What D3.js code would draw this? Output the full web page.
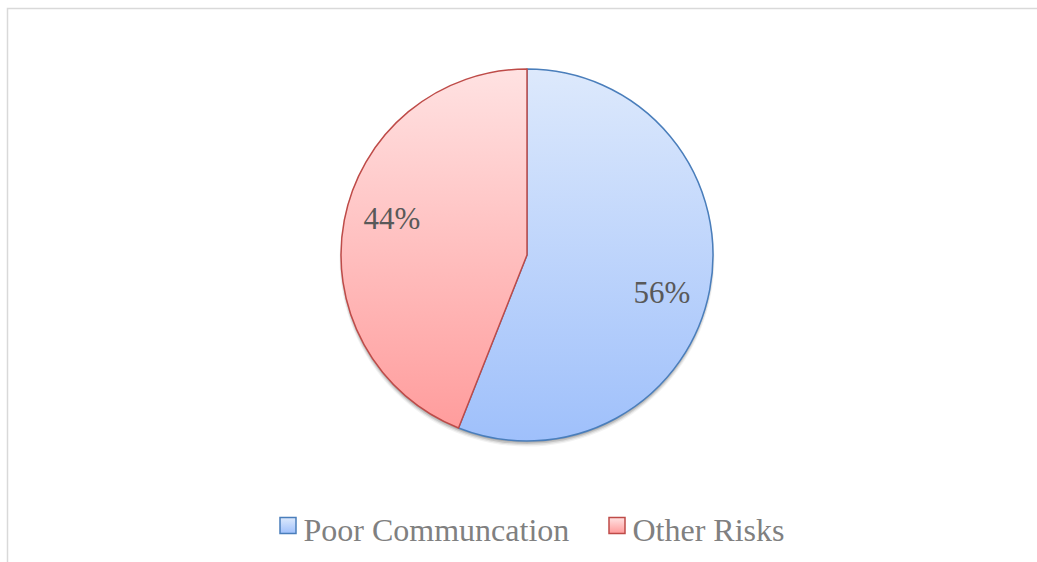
<!DOCTYPE html>
<html><head><meta charset="utf-8">
<script src="https://cdn.jsdelivr.net/npm/d3@7"></script>
</head><body style="margin:0">
<svg id="chart" width="1037" height="562"></svg>
<script>
const categories = ["Poor Communcation", "Other Risks"];
const values = [56, 44];
const labels = ["56%", "44%"];

const svg = d3.select("#chart");
const W = 1037, H = 562;
const cx = 527, cy = 255, r = 186;
const strokeCols = ["#4a7ebb", "#be4b48"];
const topCols = ["#dde9fc", "#ffe2e2"];
const botCols = ["#9fc0fb", "#ff9a9a"];

svg.append("rect").attr("x", 7.5).attr("y", 8.5).attr("width", W + 10).attr("height", H + 10)
  .attr("fill", "#fff").attr("stroke", "#d9d9d9").attr("stroke-width", 1.5);

const defs = svg.append("defs");
categories.forEach((c, i) => {
  const g = defs.append("linearGradient").attr("id", "g" + i)
    .attr("gradientUnits", "userSpaceOnUse")
    .attr("x1", 0).attr("y1", -r).attr("x2", 0).attr("y2", r);
  g.append("stop").attr("offset", "0%").attr("stop-color", topCols[i]);
  g.append("stop").attr("offset", "100%").attr("stop-color", botCols[i]);
  const lg = defs.append("linearGradient").attr("id", "lg" + i).attr("x1", 0).attr("y1", 0).attr("x2", 0).attr("y2", 1);
  lg.append("stop").attr("offset", "0%").attr("stop-color", topCols[i]);
  lg.append("stop").attr("offset", "100%").attr("stop-color", botCols[i]);
});

// soft shadow without filters: stacked translucent discs
const shadow = svg.append("g").attr("transform", `translate(${cx},${cy})`);
[[4, 1.5, 0.05], [3.5, 0.8, 0.08], [3, 0, 0.12], [2, -0.5, 0.12]].forEach(([dy, dr, op]) => {
  shadow.append("circle").attr("cx", 0).attr("cy", dy).attr("r", r + dr)
    .attr("fill", "#000").attr("fill-opacity", op);
});

const pie = d3.pie().sort(null).value(d => d)(values);
const arc = d3.arc().innerRadius(0).outerRadius(r);
const gg = svg.append("g").attr("transform", `translate(${cx},${cy})`);
gg.selectAll("path").data(pie).join("path")
  .attr("d", arc)
  .attr("fill", (d, i) => `url(#g${i})`)
  .attr("stroke", (d, i) => strokeCols[i])
  .attr("stroke-width", 1.5)
  .attr("stroke-linejoin", "round");

const lr = 140, shift = 4.5 * Math.PI / 180;
const labelData = pie.map((d, i) => ({
  text: labels[i],
  x: cx + lr * Math.sin((d.startAngle + d.endAngle) / 2 + shift),
  y: cy - lr * Math.cos((d.startAngle + d.endAngle) / 2 + shift) + 11
}));
svg.selectAll("text.lbl").data(labelData).join("text").attr("class", "lbl")
  .attr("x", d => d.x).attr("y", d => d.y)
  .attr("text-anchor", "middle")
  .attr("font-size", 31)
  .style("font-family", d => `"Liberation Serif"`)
  .attr("fill", "#595959")
  .text(d => d.text);

// legend
const legX = [280, 609];
svg.selectAll("rect.key").data(categories).join("rect").attr("class", "key")
  .attr("x", (d, i) => legX[i]).attr("y", 517.5).attr("width", 16).attr("height", 16)
  .attr("fill", (d, i) => `url(#lg${i})`).attr("stroke", (d, i) => strokeCols[i]).attr("stroke-width", 1.5);
svg.selectAll("text.leg").data(categories).join("text").attr("class", "leg")
  .attr("x", (d, i) => legX[i] + 23.5).attr("y", 541)
  .attr("font-size", 32)
  .style("font-family", d => `"Liberation Serif"`)
  .attr("fill", "#808080")
  .text(d => d);
</script>
</body></html>
